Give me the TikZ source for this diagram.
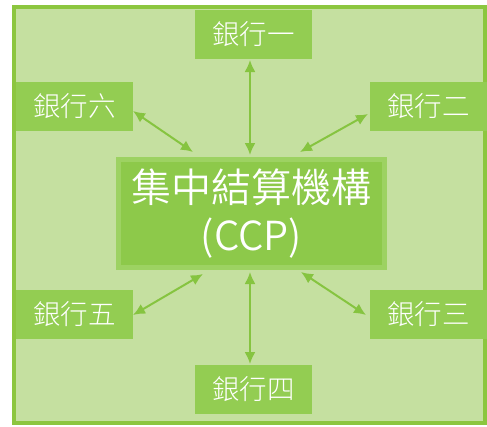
\documentclass[tikz,border=0pt]{standalone}
\usepackage{fontspec}
\newfontfamily\cjk{Noto Sans CJK TC Light}
\newfontfamily\cjkr{Noto Sans CJK TC DemiLight}
\usetikzlibrary{arrows.meta}
\definecolor{bgfill}{HTML}{C5E0A0}
\definecolor{frame}{HTML}{8CC63F}
\definecolor{boxfill}{HTML}{93CD52}
\definecolor{ccpfill}{HTML}{8DC94A}
\definecolor{ccpedge}{HTML}{9DD262}
\definecolor{arrowc}{HTML}{86C440}
\tikzset{
  bank/.style={fill=boxfill, draw=none, minimum width=117pt, minimum height=49pt, inner sep=0pt,
    text=white, font=\cjk\fontsize{27.5}{30}\selectfont},
  link/.style={draw=arrowc, line width=2pt, {Latex[length=12pt,width=11pt]}-{Latex[length=12pt,width=11pt]}},
}
\begin{document}
\begin{tikzpicture}[x=1pt,y=-1pt]
\useasboundingbox (0,0) rectangle (487,426);
\fill[white] (0,0) rectangle (487,426);
\draw[frame, fill=bgfill, line width=4pt] (14,7) rectangle (485,423);
\node[bank] (b1) at (253.5,34.5) {銀行一};
\node[bank] (b6) at (74.5,106.5) {銀行六};
\node[bank] (b2) at (428.5,106.5) {銀行二};
\node[bank] (b5) at (74.5,314) {銀行五};
\node[bank] (b3) at (428.5,314) {銀行三};
\node[bank] (b4) at (253.5,389.5) {銀行四};
\node[fill=ccpedge, minimum width=271pt, minimum height=113pt, inner sep=0pt] (ccp) at (251.5,213.5) {};
\node[fill=ccpfill, minimum width=261pt, minimum height=103pt, inner sep=0pt, align=center,
  text=white, font=\cjkr\fontsize{40}{48}\selectfont] (ccpin) at (251.5,213.5) {集中結算機構\\(CCP)};
\coordinate (c1) at (250,155);
\coordinate (c6) at (193,152);
\coordinate (c2) at (300,152);
\coordinate (c5) at (203,274);
\coordinate (c3) at (301,272);
\coordinate (c4) at (250,272);
\coordinate (e1) at (250,60);
\coordinate (e6) at (133,111);
\coordinate (e2) at (368,114);
\coordinate (e5) at (133,315);
\coordinate (e3) at (366,315);
\coordinate (e4) at (250,364);
\draw[link] (e1) -- (c1);
\draw[link] (e6) -- (c6);
\draw[link] (e2) -- (c2);
\draw[link] (e5) -- (c5);
\draw[link] (e3) -- (c3);
\draw[link] (e4) -- (c4);
\end{tikzpicture}
\end{document}
